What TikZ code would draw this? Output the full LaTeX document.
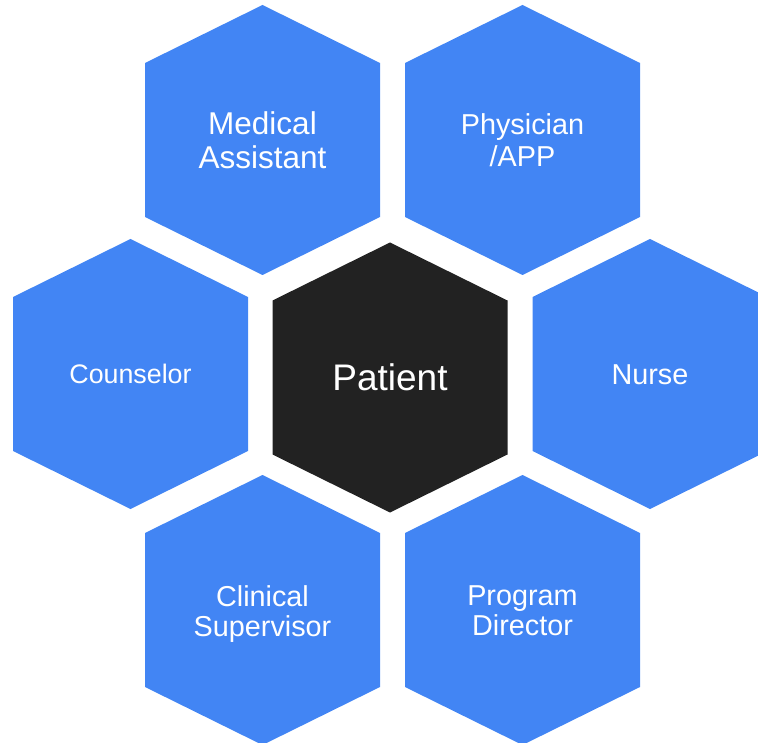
\documentclass[tikz,border=0pt]{standalone}
\usepackage{fontspec}
\setmainfont{Liberation Sans}

\definecolor{cellblue}{HTML}{4285F4}
\definecolor{patientdark}{HTML}{222222}

\tikzset{
  cell/.style={fill=cellblue},
  patient cell/.style={fill=patientdark},
  role/.style={text=white, align=center, inner sep=0pt, font=\fontsize{28.8}{30}\selectfont},
}

\begin{document}
\begin{tikzpicture}[x=1pt, y=-1pt]

  % Fix the frame
  \clip (0,0) rectangle (758,743);

  % Blue cells around the patient
  \foreach \cx/\cy in {262.5/140, 522.5/140, 130.5/374, 650/374, 262.5/610, 522.5/610} {
    \fill[cell, shift={(\cx,\cy)}] (0,-135) -- (117.5,-77) -- (117.5,77) -- (0,135)
      -- (-117.5,77) -- (-117.5,-77) -- cycle;
  }

  % Centre cell
  \fill[patient cell, shift={(390,377.5)}] (0,-135) -- (117.5,-77) -- (117.5,77) -- (0,135)
    -- (-117.5,77) -- (-117.5,-77) -- cycle;

  \node[role, font=\fontsize{37}{40}\selectfont] (patient) at (390,377.5) {Patient};

  \node[role, font=\fontsize{31.5}{33.5}\selectfont] (medical) at (262.5,140) {Medical\\Assistant};
  \node[role, font=\fontsize{28.8}{32.5}\selectfont] (physician) at (522.5,140) {Physician\\/APP};
  \node[role, font=\fontsize{26.8}{29}\selectfont] (counselor) at (130.5,374) {Counselor};
  \node[role] (nurse) at (650,375) {Nurse};
  \node[role] (clinical) at (262.5,614) {Clinical\\Supervisor};
  \node[role] (director) at (522.5,611) {Program\\Director};

\end{tikzpicture}
\end{document}
